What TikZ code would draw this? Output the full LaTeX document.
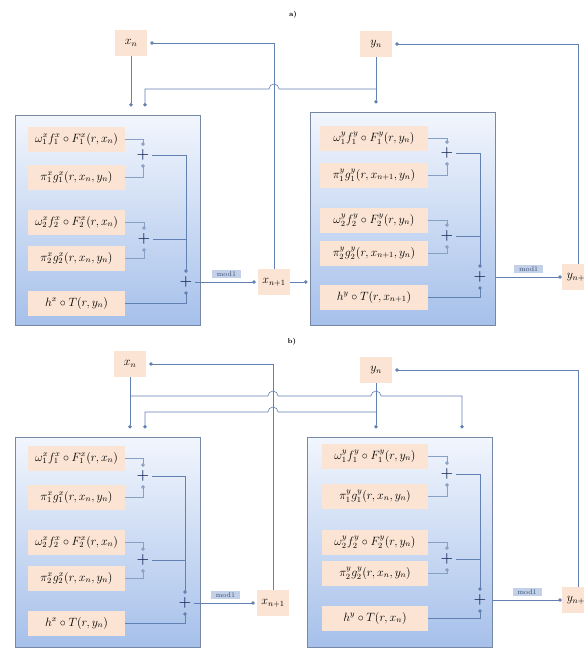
\documentclass[tikz,border=0pt]{standalone}
\usepackage{amsmath,amssymb}
\usepackage{tikz}
\usetikzlibrary{arrows.meta,positioning,calc}

\definecolor{mPeach}{RGB}{251,228,211}
\definecolor{mBlockTop}{RGB}{242,246,253}
\definecolor{mBlockBot}{RGB}{166,192,234}
\definecolor{mFrame}{RGB}{118,136,166}
\definecolor{mLink}{RGB}{98,128,178}
\definecolor{mPlus}{RGB}{26,44,94}
\definecolor{mTag}{RGB}{194,208,232}

\begin{document}
\begin{tikzpicture}[x=1pt, y=-1pt,
    every node/.style={font=\large},
    term/.style={fill=mPeach, minimum height=25pt, inner sep=1pt},
    var/.style={fill=mPeach, minimum width=32pt, minimum height=26pt, inner sep=1pt},
    block/.style={draw=mFrame, line width=0.8pt, top color=mBlockTop, bottom color=mBlockBot,
                  minimum width=185pt, minimum height=210pt},
    adder/.style={minimum size=18pt, inner sep=0pt, text=mPlus, font=\Large\boldmath},
    link/.style={draw=mLink, line width=0.6pt},
    feed/.style={link, -{Circle[length=3.5pt]}},
    tap/.style={feed, draw=mLink!75, line width=0.45pt},
    tag/.style={fill=mTag, inner xsep=5pt, inner ysep=1.5pt, text=mPlus!85, font=\scriptsize}]
    \useasboundingbox (0,0) rectangle (584,649);

    % Panel a
    \node[font=\scriptsize\bfseries] (labA) at (293,15) {a)};
    \node[var] (xA) at (131,43) {$x_n$};
    \node[var] (yA) at (376,44) {$y_n$};
    \node[block] (bxA) at (107.5,220) {};
    \node[block, minimum height=213pt] (byA) at (402.5,218.5) {};
    \node[var] (xnA) at (274,282) {$x_{n+1}$};
    \node[var] (ynA) at (578,277) {$y_{n+1}$};
    % Terms x
    \node[term, minimum width=97pt] (txA1) at (76.5,139) {$\omega_1^x f_1^x\circ F_1^x(r,x_n)$};
    \node[term, minimum width=97pt] (txA2) at (76.5,177) {$\pi_1^x g_1^x(r,x_n,y_n)$};
    \node[term, minimum width=97pt] (txA3) at (76.5,222) {$\omega_2^x f_2^x\circ F_2^x(r,x_n)$};
    \node[term, minimum width=97pt] (txA4) at (76.5,258) {$\pi_2^x g_2^x(r,x_n,y_n)$};
    \node[term, minimum width=97pt] (txA5) at (76.5,303) {$h^x\circ T(r,y_n)$};
    % Terms y
    \node[term, minimum width=108pt] (tyA1) at (374,138) {$\omega_1^y f_1^y\circ F_1^y(r,y_n)$};
    \node[term, minimum width=108pt] (tyA2) at (374,175) {$\pi_1^y g_1^y(r,x_{n+1},y_n)$};
    \node[term, minimum width=108pt] (tyA3) at (374,220) {$\omega_2^y f_2^y\circ F_2^y(r,y_n)$};
    \node[term, minimum width=108pt] (tyA4) at (374,253) {$\pi_2^y g_2^y(r,x_{n+1},y_n)$};
    \node[term, minimum width=108pt] (tyA5) at (374,297) {$h^y\circ T(r,x_{n+1})$};
    % Adders
    \node[adder] (axA1) at (143,155) {$+$};
    \node[adder] (axA2) at (144,239) {$+$};
    \node[adder] (axA3) at (186,282) {$+$};
    \node[adder] (ayA1) at (447,153) {$+$};
    \node[adder] (ayA2) at (447,236) {$+$};
    \node[adder] (ayA3) at (480,277) {$+$};
    % Sums
    \draw[tap] (txA1.east) -| (axA1.north);
    \draw[tap] (txA2.east) -| (axA1.south);
    \draw[tap] (txA3.east) -| (axA2.north);
    \draw[tap] (txA4.east) -| (axA2.south);
    \draw[feed] (axA1.east) -| (axA3.north);
    \draw[link] (axA2.east) -- (axA2.east -| axA3.north);
    \draw[feed] (txA5.east) -| (axA3.south);
    \draw[tap] (tyA1.east) -| (ayA1.north);
    \draw[tap] (tyA2.east) -| (ayA1.south);
    \draw[tap] (tyA3.east) -| (ayA2.north);
    \draw[tap] (tyA4.east) -| (ayA2.south);
    \draw[feed] (ayA1.east) -| (ayA3.north);
    \draw[link] (ayA2.east) -- (ayA2.east -| ayA3.north);
    \draw[feed] (tyA5.east) -| (ayA3.south);
    % Outputs
    \draw[feed, shorten >=2pt] (axA3.east) -- (xnA.west);
    \path (axA3.east) -- (xnA.west) coordinate[midway] (mA1);
    \node[tag, above=4pt of mA1] (modA1) {mod1};
    \draw[feed] (ayA3.east -| byA.east) -- (ynA.west);
    \path (byA.east |- ayA3) -- (ynA.west) coordinate[midway] (mA2);
    \node[tag, above=4pt of mA2] (modA2) {mod1};
    % Inputs
    \draw[feed, shorten >=8pt] (xA.south) -- (xA.south |- bxA.north);
    \draw[feed, shorten >=8pt] (yA.south) -- (yA.south |- byA.north);
    \coordinate (sA) at (376,89);
    \coordinate (dA) at (145,89);
    \coordinate (cA) at (xnA.north |- sA);
    \draw[feed, shorten >=8pt] (sA) -- ([xshift=5pt]cA) arc[start angle=0, end angle=180, radius=5pt]
      -- (dA) -- (dA |- bxA.north);
    \draw[feed, shorten >=3pt] (xnA.north) |- (xA.east);
    \draw[feed, shorten >=2pt] (xnA.east) -- (xnA.east -| byA.west);
    \draw[feed, shorten >=3pt] (ynA.north) |- (yA.east);

    % Panel b
    \node[font=\scriptsize\bfseries] (labB) at (292,342) {b)};
    \node[var] (xB) at (130,364) {$x_n$};
    \node[var] (yB) at (376,370) {$y_n$};
    \node[block] (bxB) at (107.5,542) {};
    \node[block] (byB) at (399.5,542) {};
    \node[var] (xnB) at (273,603) {$x_{n+1}$};
    \node[var] (ynB) at (578,600) {$y_{n+1}$};
    % Terms x
    \node[term, minimum width=97pt] (txB1) at (76.5,458) {$\omega_1^x f_1^x\circ F_1^x(r,x_n)$};
    \node[term, minimum width=97pt] (txB2) at (76.5,497) {$\pi_1^x g_1^x(r,x_n,y_n)$};
    \node[term, minimum width=97pt] (txB3) at (76.5,542) {$\omega_2^x f_2^x\circ F_2^x(r,x_n)$};
    \node[term, minimum width=97pt] (txB4) at (76.5,578) {$\pi_2^x g_2^x(r,x_n,y_n)$};
    \node[term, minimum width=97pt] (txB5) at (76.5,623) {$h^x\circ T(r,y_n)$};
    % Terms y
    \node[term, minimum width=106pt] (tyB1) at (375,456) {$\omega_1^y f_1^y\circ F_1^y(r,y_n)$};
    \node[term, minimum width=106pt] (tyB2) at (375,496) {$\pi_1^y g_1^y(r,x_n,y_n)$};
    \node[term, minimum width=106pt] (tyB3) at (375,542) {$\omega_2^y f_2^y\circ F_2^y(r,y_n)$};
    \node[term, minimum width=106pt] (tyB4) at (375,573) {$\pi_2^y g_2^y(r,x_n,y_n)$};
    \node[term, minimum width=106pt] (tyB5) at (375,618) {$h^y\circ T(r,x_n)$};
    % Adders
    \node[adder] (axB1) at (143,476) {$+$};
    \node[adder] (axB2) at (143,560) {$+$};
    \node[adder] (axB3) at (185,603) {$+$};
    \node[adder] (ayB1) at (447,474) {$+$};
    \node[adder] (ayB2) at (447,559) {$+$};
    \node[adder] (ayB3) at (480,600) {$+$};
    % Sums
    \draw[tap] (txB1.east) -| (axB1.north);
    \draw[tap] (txB2.east) -| (axB1.south);
    \draw[tap] (txB3.east) -| (axB2.north);
    \draw[tap] (txB4.east) -| (axB2.south);
    \draw[feed] (axB1.east) -| (axB3.north);
    \draw[link] (axB2.east) -- (axB2.east -| axB3.north);
    \draw[feed] (txB5.east) -| (axB3.south);
    \draw[tap] (tyB1.east) -| (ayB1.north);
    \draw[tap] (tyB2.east) -| (ayB1.south);
    \draw[tap] (tyB3.east) -| (ayB2.north);
    \draw[tap] (tyB4.east) -| (ayB2.south);
    \draw[feed] (ayB1.east) -| (ayB3.north);
    \draw[link] (ayB2.east) -- (ayB2.east -| ayB3.north);
    \draw[feed] (tyB5.east) -| (ayB3.south);
    % Outputs
    \draw[feed, shorten >=2pt] (axB3.east) -- (xnB.west);
    \path (axB3.east) -- (xnB.west) coordinate[midway] (mB1);
    \node[tag, above=4pt of mB1] (modB1) {mod1};
    \draw[feed] (ayB3.east -| byB.east) -- (ynB.west);
    \path (byB.east |- ayB3) -- (ynB.west) coordinate[midway] (mB2);
    \node[tag, above=4pt of mB2] (modB2) {mod1};
    % Inputs
    \draw[feed, shorten >=8pt] (xB.south) -- (xB.south |- bxB.north);
    \draw[feed, shorten >=8pt] (yB.south) -- (yB.south |- byB.north);
    \coordinate (sB1) at (130,396);
    \coordinate (dB1) at (462,396);
    \coordinate (cB1) at (xnB.north |- sB1);
    \coordinate (cB2) at (yB.south |- sB1);
    \draw[feed, shorten >=8pt] (sB1) -- ([xshift=-5pt]cB1) arc[start angle=180, end angle=0, radius=5pt]
      -- ([xshift=-5pt]cB2) arc[start angle=180, end angle=0, radius=5pt]
      -- (dB1) -- (dB1 |- byB.north);
    \coordinate (sB2) at (376,412);
    \coordinate (dB2) at (145,412);
    \coordinate (cB3) at (xnB.north |- sB2);
    \draw[feed, shorten >=8pt] (sB2) -- ([xshift=5pt]cB3) arc[start angle=0, end angle=180, radius=5pt]
      -- (dB2) -- (dB2 |- bxB.north);
    \draw[feed, shorten >=3pt] (xnB.north) |- (xB.east);
    \draw[feed, shorten >=3pt] (ynB.north) |- (yB.east);
\end{tikzpicture}
\end{document}
